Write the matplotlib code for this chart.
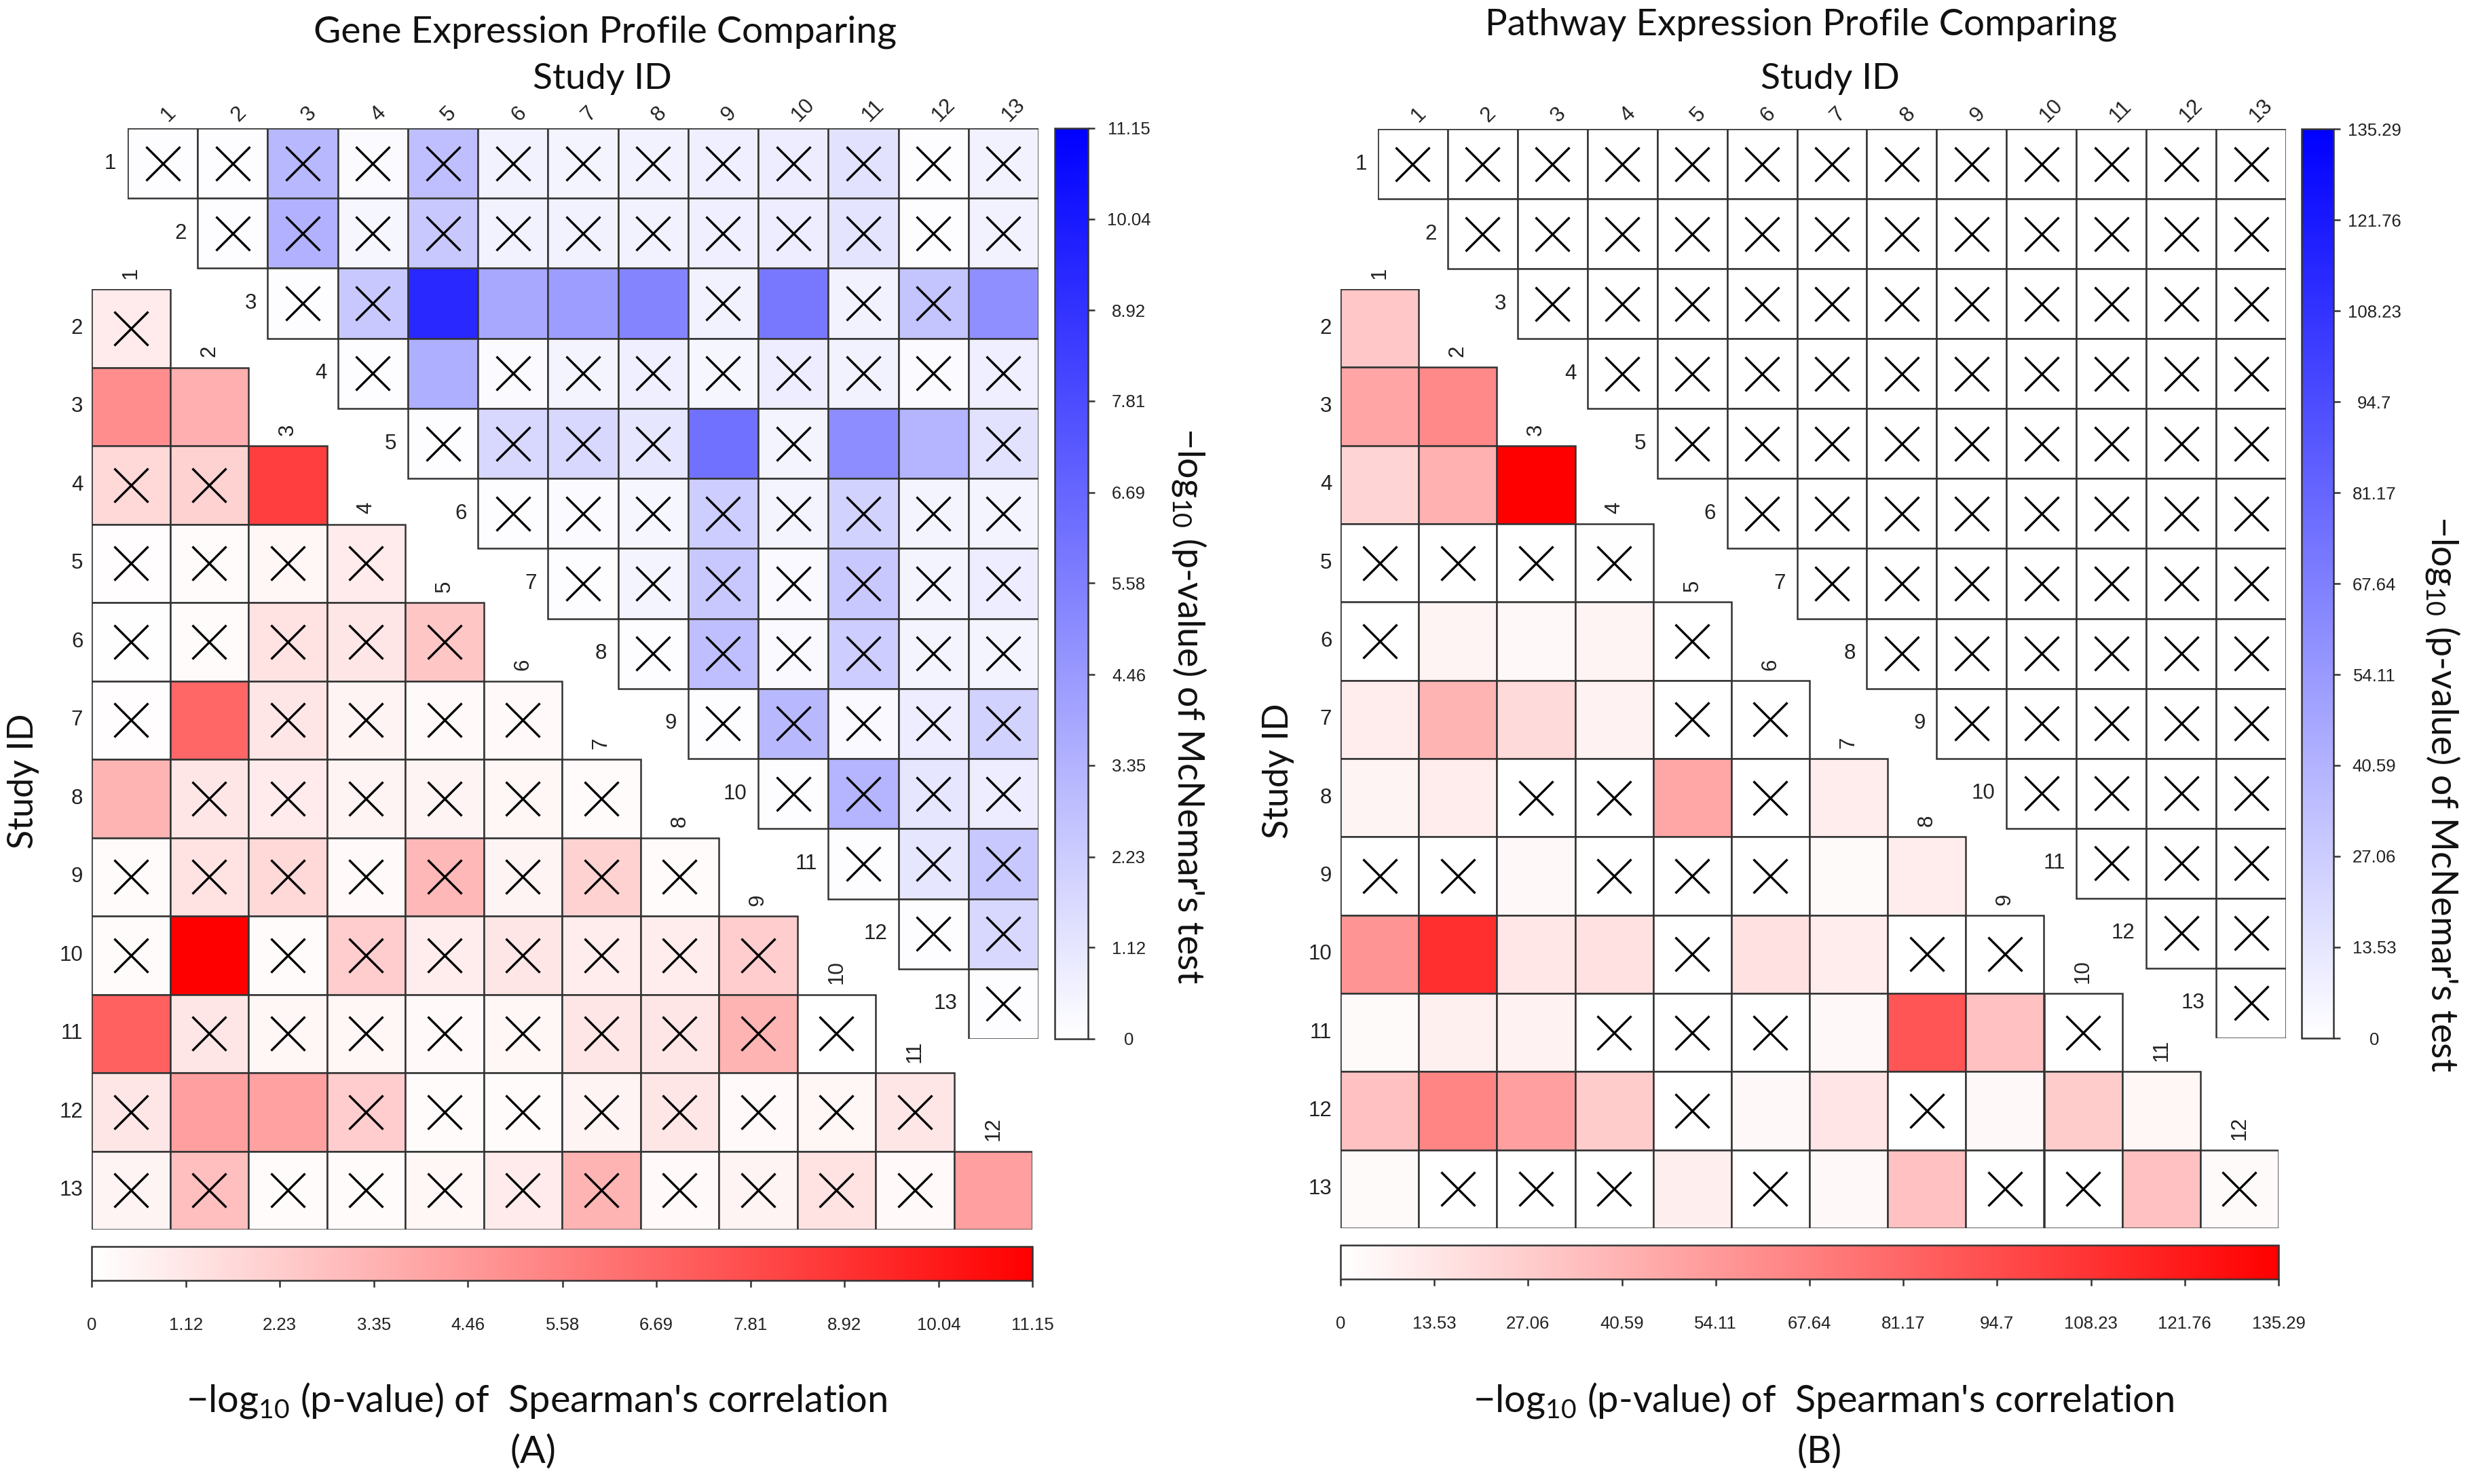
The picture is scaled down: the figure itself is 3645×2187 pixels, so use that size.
import matplotlib
matplotlib.use("Agg")
import matplotlib.pyplot as plt
from matplotlib.colors import LinearSegmentedColormap, Normalize
from matplotlib.cm import ScalarMappable
from matplotlib.patches import Rectangle

plt.rcParams['font.family'] = ['Liberation Sans', 'DejaVu Sans']
plt.rcParams['mathtext.fontset'] = 'custom'

W, H = 3645, 2187  # output size in pixels (dpi 300)

# ---------------- data ----------------
# (A) gene expression: -log10 p of McNemar (upper, row i = study i, cols i..13)
gene_mcnemar = [
    [0.1, 0.1, 3.1, 0.2, 2.8, 0.6, 0.5, 0.6, 0.7, 0.8, 1.3, 0.1, 0.6],
    [0.1, 3.4, 0.4, 2.4, 0.6, 0.6, 0.6, 0.7, 0.8, 1.2, 0.1, 0.6],
    [0.1, 2.4, 9.4, 3.8, 4.3, 5.4, 0.6, 5.9, 0.6, 2.6, 4.9],
    [0.1, 3.5, 0.2, 0.5, 0.7, 0.4, 0.8, 0.6, 0.2, 0.7],
    [0.1, 1.7, 1.7, 1.1, 6.2, 0.5, 5.0, 3.3, 1.3],
    [0.1, 0.2, 0.4, 2.2, 0.5, 2.0, 0.5, 0.5],
    [0.1, 0.5, 2.4, 0.3, 2.4, 0.5, 0.8],
    [0.1, 2.8, 0.3, 2.2, 0.5, 0.5],
    [0.1, 3.1, 0.3, 0.8, 2.0],
    [0.1, 3.3, 1.1, 0.8],
    [0.1, 1.1, 2.4],
    [0.1, 1.7],
    [0.1],
]
gene_mcnemar_ns = ["XXXXXXXXXXXXX", "XXXXXXXXXXXX", "XX....X.XX.", "X.XXXXXXXX",
                   "XXXX.X..X", "XXXXXXXX", "XXXXXXX", "XXXXXX", "XXXXX", "XXXX",
                   "XXX", "XX", "X"]
# -log10 p of Spearman (lower, row = study 2..13, cols 1..row-1)
gene_spearman = [
    [0.9],
    [5.0, 3.5],
    [1.7, 2.0, 8.4],
    [0.1, 0.2, 0.4, 0.9],
    [0.05, 0.2, 1.3, 1.1, 2.5],
    [0.1, 6.7, 1.1, 0.5, 0.3, 0.3],
    [3.3, 1.1, 0.9, 0.5, 0.5, 0.4, 0.2],
    [0.2, 1.3, 1.7, 0.3, 3.1, 0.5, 2.0, 0.2],
    [0.2, 11.15, 0.2, 2.2, 0.8, 1.1, 0.8, 0.8, 2.2],
    [6.9, 1.1, 0.4, 0.4, 0.3, 0.4, 1.1, 1.1, 3.3, 0.0],
    [1.1, 4.2, 4.1, 2.2, 0.2, 0.2, 0.5, 1.1, 0.3, 0.4, 1.1],
    [0.5, 2.8, 0.2, 0.2, 0.4, 0.9, 3.3, 0.3, 0.5, 1.3, 0.3, 4.2],
]
gene_spearman_ns = ["X", "..", "XX.", "XXXX", "XXXXX", "X.XXXX", ".XXXXXX", "XXXXXXXX",
                    "X.XXXXXXX", ".XXXXXXXXX", "X..XXXXXXXX", "XXXXXXXXXXX."]
gene_ticks = ["0", "1.12", "2.23", "3.35", "4.46", "5.58", "6.69", "7.81", "8.92", "10.04", "11.15"]

# (B) pathway expression
path_mcnemar = [
    [0.5, 0.4, 0.5, 0.4, 0.5, 0.4, 0.5, 0.4, 0.5, 0.4, 0.5, 0.4, 0.5],
    [0.4, 0.5, 0.4, 0.5, 0.4, 0.5, 0.4, 0.5, 0.4, 0.5, 0.4, 0.5],
    [0.5, 0.4, 0.5, 0.4, 0.5, 0.4, 0.5, 0.4, 0.5, 0.4, 0.5],
    [0.4, 0.5, 0.4, 0.5, 0.4, 0.5, 0.4, 0.5, 0.4, 0.5],
    [0.5, 0.4, 0.5, 0.4, 0.5, 0.4, 0.5, 0.4, 0.5],
    [0.4, 0.5, 0.4, 0.5, 0.4, 0.5, 0.4, 0.5],
    [0.5, 0.4, 0.5, 0.4, 0.5, 0.4, 0.5],
    [0.4, 0.5, 0.4, 0.5, 0.4, 0.5],
    [0.5, 0.4, 0.5, 0.4, 0.5],
    [0.4, 0.5, 0.4, 0.5],
    [0.5, 0.4, 0.5],
    [0.4, 0.5],
    [0.5],
]
path_mcnemar_ns = ["XXXXXXXXXXXXX", "XXXXXXXXXXXX", "XXXXXXXXXXX", "XXXXXXXXXX",
                   "XXXXXXXXX", "XXXXXXXX", "XXXXXXX", "XXXXXX", "XXXXX", "XXXX",
                   "XXX", "XX", "X"]
path_spearman = [
    [30],
    [48, 63],
    [23, 42, 135.29],
    [0.5, 0.5, 0.4, 0.6],
    [0.5, 6, 4, 6, 0.5],
    [10, 40, 20, 7, 0.5, 0.4],
    [6, 10, 0.5, 0.4, 47, 0.5, 10],
    [0.4, 0.5, 4, 0.5, 0.4, 0.5, 3, 10],
    [57, 110, 13, 16, 0.5, 16, 10, 0.5, 0.4],
    [3, 8, 7, 0.4, 0.5, 0.5, 4, 90, 33, 0.5],
    [33, 65, 51, 27, 0.5, 4, 14, 0.5, 4, 27, 5],
    [3, 0.5, 0.5, 0.4, 9, 0.5, 4, 33, 0.5, 0.5, 33, 3],
]
path_spearman_ns = [".", "..", "...", "XXXX", "X...X", "....XX", "..XX.X.", "XX.XXX..",
                    "....X..XX", "...XXX...X", "....X..X...", ".XXX.X..XX.X"]
path_ticks = ["0", "13.53", "27.06", "40.59", "54.11", "67.64", "81.17", "94.7", "108.23", "121.76", "135.29"]

blues = LinearSegmentedColormap.from_list("wb", ["#ffffff", "#0000ff"])
reds = LinearSegmentedColormap.from_list("wr", ["#ffffff", "#ff0000"])

fig = plt.figure(figsize=(W / 300, H / 300), dpi=300)
renderer = fig.canvas.get_renderer()


def px(x0, y0, x1, y1):
    return [x0 / W, 1 - y1 / H, (x1 - x0) / W, (y1 - y0) / H]


def ftext(x, y, s, fit=None, **kw):
    t = fig.text(x / W, 1 - y / H, s, **kw)
    if fit:
        # scale the font so the text spans `fit` pixels, as in the reference
        bb = t.get_window_extent(renderer)
        t.set_fontsize(t.get_fontsize() * fit / max(bb.width, bb.height))
    return t


def triangle(rect, values, flags, upper, cmap, vmax):
    n = 13 if upper else 12
    ax = fig.add_axes(px(*rect))
    ax.set_xlim(0, n)
    ax.set_ylim(n, 0)
    ax.axis('off')
    norm = Normalize(0, vmax)
    xs, ys = [], []
    for i, (row, fl) in enumerate(zip(values, flags)):
        start = i if upper else 0
        for k, (v, f) in enumerate(zip(row, fl)):
            j = start + k
            ax.add_patch(Rectangle((j, i), 1, 1, facecolor=cmap(norm(v)),
                                   edgecolor='#333333', lw=0.6))
            if f == 'X':
                xs.append(j + 0.5)
                ys.append(i + 0.5)
    ax.plot(xs, ys, ls='none', marker='x', ms=12, mew=0.8, color='black')
    if upper:
        for i in range(n):
            ax.text(i - 0.16, i + 0.5, str(i + 1), ha='right', va='center', fontsize=7.5, color='#222')
            ax.text(i + 0.58, -0.09, str(i + 1), ha='left', va='baseline', rotation=45,
                    rotation_mode='anchor', fontsize=7.5, color='#222')
    else:
        for i in range(n):
            ax.text(-0.11, i + 0.5, str(i + 2), ha='right', va='center', fontsize=7.5, color='#222')
            ax.text(i + 0.5, i - 0.13, str(i + 1), ha='center', va='bottom', rotation=90,
                    fontsize=7.5, color='#222')
    return ax


def colorbar(rect, cmap, labels, orientation):
    vals = [float(t) for t in labels]
    cax = fig.add_axes(px(*rect))
    cb = fig.colorbar(ScalarMappable(Normalize(0, vals[-1]), cmap), cax=cax,
                      orientation=orientation)
    cb.set_ticks(vals, labels=labels)
    cb.outline.set_edgecolor('#333333')
    cb.outline.set_linewidth(0.6)
    if orientation == 'vertical':
        cax.tick_params(length=2.4, width=0.6, color='#333', labelsize=6.2, pad=12,
                        labelcolor='#222')
        for lbl in cax.get_yticklabels():
            lbl.set_horizontalalignment('center')
    else:
        cax.tick_params(length=2.4, width=0.6, color='#333', labelsize=6.2, pad=10.5,
                        labelcolor='#222')
    return cb


label_font = dict(family=['Lato', 'DejaVu Sans'], fontsize=12, color='#111')
spear_label = "\u2212log$_{\\mathregular{10}}$ (p-value) of  Spearman's correlation"
mcn_label = "\u2212log$_{\\mathregular{10}}$ (p-value) of McNemar's test"

panels = [
    dict(title="Gene Expression Profile Comparing", ty=47, tw=860,
         up=gene_mcnemar, up_ns=gene_mcnemar_ns, low=gene_spearman, low_ns=gene_spearman_ns,
         ticks=gene_ticks, tag="(A)",
         up_rect=(188, 189, 1530, 1531), low_rect=(135, 426, 1521, 1812),
         bcb=(1554, 189, 1603, 1531), rcb=(135, 1837, 1521, 1887),
         tx=891, sx=887, lx=35, ly=1151, spx=790, bx=1752, by=1040),
    dict(title="Pathway Expression Profile Comparing", ty=36, tw=933,
         up=path_mcnemar, up_ns=path_mcnemar_ns, low=path_spearman, low_ns=path_spearman_ns,
         ticks=path_ticks, tag="(B)",
         up_rect=(2030, 190, 3368, 1530), low_rect=(1975, 426, 3357, 1810),
         bcb=(3391, 190, 3438, 1530), rcb=(1975, 1835, 3357, 1885),
         tx=2654, sx=2696, lx=1884, ly=1136, spx=2686, bx=3599, by=1170),
]

for p in panels:
    triangle(p['up_rect'], p['up'], p['up_ns'], True, blues, float(p['ticks'][-1]))
    triangle(p['low_rect'], p['low'], p['low_ns'], False, reds, float(p['ticks'][-1]))
    colorbar(p['bcb'], blues, p['ticks'], 'vertical')
    colorbar(p['rcb'], reds, p['ticks'], 'horizontal')

    ftext(p['tx'], p['ty'], p['title'], fit=p['tw'], ha='center', va='center', **label_font)
    ftext(p['sx'], 116, "Study ID", fit=205, ha='center', va='center', **label_font)
    ftext(p['lx'], p['ly'], "Study ID", fit=200, ha='center', va='center', rotation=90,
          **label_font)
    sp = ftext(p['spx'], 2064, spear_label, fit=1033, ha='center', va='center', **label_font)
    ftext(p['spx'] - 5, 2140, p['tag'], ha='center', va='center',
          family=['Lato', 'DejaVu Sans'], fontsize=sp.get_fontsize(), color='#111')
    ftext(p['bx'], p['by'], mcn_label, fit=820, ha='center', va='center', rotation=-90,
          **label_font)

fig.savefig("out.png", dpi=300, facecolor='white')
